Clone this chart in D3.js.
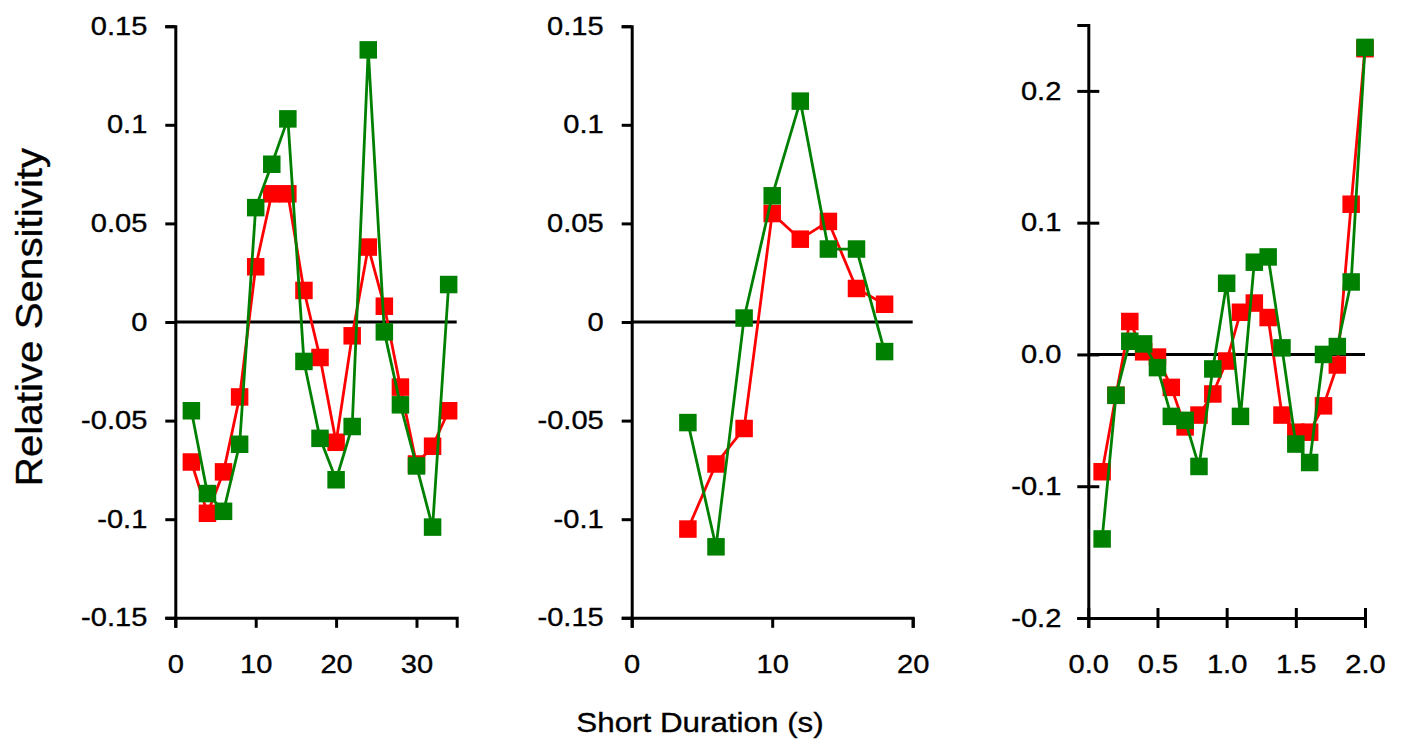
<!DOCTYPE html>
<html>
<head>
<meta charset="utf-8">
<script src="https://cdn.jsdelivr.net/npm/d3@7"></script>
<style>
  html, body { margin: 0; padding: 0; background: #fff; }
  svg { display: block; font-family: "Liberation Sans", Arial, sans-serif; }
</style>
</head>
<body>
<svg id="chart" width="1402" height="749"></svg>
<script>
// ---------- data ----------
const p1X = [2, 4, 6, 8, 10, 12, 14, 16, 18, 20, 22, 24, 26, 28, 30, 32, 34];
const p1Red = [-0.071, -0.097, -0.076, -0.038, 0.028, 0.065, 0.065, 0.016, -0.018, -0.061, -0.007, 0.038, 0.008, -0.033, -0.072, -0.063, -0.045];
const p1Green = [-0.045, -0.087, -0.096, -0.062, 0.058, 0.080, 0.103, -0.020, -0.059, -0.080, -0.053, 0.138, -0.005, -0.042, -0.073, -0.104, 0.019];

const p2X = [4, 6, 8, 10, 12, 14, 16, 18];
const p2Red = [-0.105, -0.072, -0.054, 0.055, 0.042, 0.051, 0.017, 0.009];
const p2Green = [-0.051, -0.114, 0.002, 0.064, 0.112, 0.037, 0.037, -0.015];

const p3X = [0.1, 0.2, 0.3, 0.4, 0.5, 0.6, 0.7, 0.8, 0.9, 1.0, 1.1, 1.2, 1.3, 1.4, 1.5, 1.6, 1.7, 1.8, 1.9, 2.0];
const p3Red = [-0.089, -0.031, 0.025, 0.002, -0.002, -0.025, -0.055, -0.046, -0.030, -0.005, 0.032, 0.039, 0.028, -0.046, -0.059, -0.059, -0.039, -0.008, 0.114, 0.232];
const p3Green = [-0.140, -0.031, 0.010, 0.008, -0.010, -0.047, -0.050, -0.085, -0.011, 0.054, -0.047, 0.070, 0.074, 0.005, -0.068, -0.082, 0.000, 0.006, 0.055, 0.233];

const p12YTicks = [-0.15, -0.1, -0.05, 0, 0.05, 0.1, 0.15];
const p12YTickLabels = ["-0.15", "-0.1", "-0.05", "0", "0.05", "0.1", "0.15"];
const p3YTicks = [-0.2, -0.1, 0, 0.1, 0.2];
const p3YTickLabels = ["-0.2", "-0.1", "0.0", "0.1", "0.2"];
const p1XTicks = [0, 10, 20, 30];
const p1XTickLabels = ["0", "10", "20", "30"];
const p2XTicks = [0, 10, 20];
const p2XTickLabels = ["0", "10", "20"];
const p3XTicks = [0, 0.5, 1.0, 1.5, 2.0];
const p3XTickLabels = ["0.0", "0.5", "1.0", "1.5", "2.0"];

const xTitle = "Short Duration (s)";
const yTitle = "Relative Sensitivity";

// ---------- drawing ----------
const svg = d3.select("#chart");
const RED = "#ff0000", GREEN = "#008000";
const TICK_FONT = 25.5, STRETCH = 1.14;

const panels = [
  { x: p1X, red: p1Red, green: p1Green, xDom: [0, 35], xRange: [175.3, 456.7], yDom: [-0.15, 0.15], yRange: [617.8, 26.2],
    yTicks: p12YTicks, yLabels: p12YTickLabels, xTicks: p1XTicks, xLabels: p1XTickLabels, cross: false },
  { x: p2X, red: p2Red, green: p2Green, xDom: [0, 20], xRange: [631.7, 912.7], yDom: [-0.15, 0.15], yRange: [617.8, 26.2],
    yTicks: p12YTicks, yLabels: p12YTickLabels, xTicks: p2XTicks, xLabels: p2XTickLabels, cross: false },
  { x: p3X, red: p3Red, green: p3Green, xDom: [0, 2], xRange: [1088.3, 1365], yDom: [-0.2, 0.25], yRange: [618, 25],
    yTicks: p3YTicks, yLabels: p3YTickLabels, xTicks: p3XTicks, xLabels: p3XTickLabels, cross: true }
];

panels.forEach(p => {
  const x = d3.scaleLinear().domain(p.xDom).range(p.xRange);
  const y = d3.scaleLinear().domain(p.yDom).range(p.yRange);
  const g = svg.append("g");

  // zero line
  g.append("line")
    .attr("x1", x(p.xDom[0])).attr("x2", x(p.xDom[1]))
    .attr("y1", y(0)).attr("y2", y(0))
    .attr("stroke", "#000").attr("stroke-width", 3);

  // axes
  const yAxis = d3.axisLeft(y).tickValues(p.yTicks)
    .tickFormat((d, i) => p.yLabels[i]).tickSizeOuter(0)
    .tickSize(p.cross ? 11 : 10).tickPadding(p.cross ? 16 : 18);
  const xAxis = d3.axisBottom(x).tickValues(p.xTicks)
    .tickFormat((d, i) => p.xLabels[i]).tickSizeOuter(0)
    .tickSize(10).tickPadding(27);

  const ya = g.append("g").attr("transform", `translate(${x(p.xDom[0])},0)`).call(yAxis);
  const xa = g.append("g").attr("transform", `translate(0,${y(p.yDom[0])})`).call(xAxis);

  [ya, xa].forEach(a => {
    a.select(".domain").attr("stroke", "#000").attr("stroke-width", 3);
    a.selectAll(".tick line").attr("stroke", "#000").attr("stroke-width", 3);
    a.selectAll(".tick text").attr("fill", "#000")
      .attr("stroke", "#000").attr("stroke-width", 0.35)
      .style("font-size", TICK_FONT + "px")
      .style("font-family", '"Liberation Sans", Arial, sans-serif');
  });
  xa.selectAll(".tick text").attr("dy", "0.71em");
  if (p.cross) {
    ya.selectAll(".tick line").attr("x1", 11).attr("x2", -11);
    xa.selectAll(".tick line").attr("y1", -10).attr("y2", 10);
  }

  // series
  const line = d3.line().x(d => x(d[0])).y(d => y(d[1]));
  const S = 17.5;
  [[p.red, RED], [p.green, GREEN]].forEach(([vals, col]) => {
    const pts = p.x.map((xv, i) => [xv, vals[i]]);
    g.append("path").datum(pts)
      .attr("d", line).attr("fill", "none")
      .attr("stroke", col).attr("stroke-width", 2.8).attr("stroke-linejoin", "round");
    g.selectAll(null).data(pts).enter().append("rect")
      .attr("x", d => x(d[0]) - S / 2).attr("y", d => y(d[1]) - S / 2)
      .attr("width", S).attr("height", S).attr("fill", col);
  });
});

// titles
svg.append("text")
  .attr("class", "stretch-title")
  .attr("x", 700).attr("y", 732)
  .attr("text-anchor", "middle")
  .style("font-size", "27.5px")
  .attr("fill", "#000").attr("stroke", "#000").attr("stroke-width", 0.35)
  .text(xTitle);

svg.append("text")
  .attr("class", "stretch-title-y")
  .attr("transform", "translate(42,317) rotate(-90)")
  .attr("text-anchor", "middle")
  .style("font-size", "37px")
  .attr("fill", "#000").attr("stroke", "#000").attr("stroke-width", 0.35)
  .text(yTitle);

// widen glyphs to match the reference's wide lettering
svg.selectAll(".tick text, .stretch-title").each(function() {
  const w = this.getComputedTextLength();
  d3.select(this).attr("textLength", w * STRETCH).attr("lengthAdjust", "spacingAndGlyphs");
});
svg.selectAll(".stretch-title-y").each(function() {
  const w = this.getComputedTextLength();
  d3.select(this).attr("textLength", w * 1.09).attr("lengthAdjust", "spacingAndGlyphs");
});
</script>
</body>
</html>
